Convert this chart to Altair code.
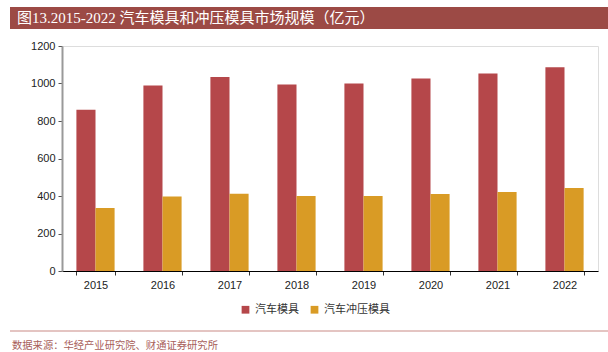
import altair as alt
import pandas as pd

years = ["2015", "2016", "2017", "2018", "2019", "2020", "2021", "2022"]
auto_mold = [860, 990, 1035, 995, 1000, 1027, 1053, 1087]
stamping_mold = [336, 398, 412, 400, 400, 411, 421, 443]
series_names = ["汽车模具", "汽车冲压模具"]
colors = ["#B5474A", "#D99B25"]

rows = []
for y, a, s in zip(years, auto_mold, stamping_mold):
    rows.append({"year": y, "series": series_names[0], "value": a})
    rows.append({"year": y, "series": series_names[1], "value": s})
df = pd.DataFrame(rows)

FONT = "Liberation Sans, Noto Sans CJK SC"
CJK = "Noto Sans CJK SC"

bars = alt.Chart(df).mark_bar(stroke=None).encode(
    x=alt.X("year:N", sort=years, title=None,
            scale=alt.Scale(paddingInner=0.43, paddingOuter=0.215),
            axis=alt.Axis(labelAngle=0, labelFont=FONT, labelFontSize=11, labelColor="#222",
                          domainColor="#000", tickColor="#333", tickBand="extent",
                          tickSize=4, labelPadding=4)),
    xOffset=alt.XOffset("series:N", sort=series_names),
    y=alt.Y("value:Q", title=None,
            scale=alt.Scale(domain=[0, 1200]),
            axis=alt.Axis(values=[0, 200, 400, 600, 800, 1000, 1200], grid=False, format="d",
                          labelFont=FONT, labelFontSize=11, labelColor="#222",
                          domainColor="#999", domainWidth=2, tickColor="#555", tickSize=4, labelPadding=3)),
    color=alt.Color("series:N", sort=series_names,
                    scale=alt.Scale(domain=series_names, range=colors),
                    legend=alt.Legend(title=None, orient="none", direction="horizontal",
                                      legendX=178, legendY=258, symbolType="square",
                                      symbolSize=60, symbolStrokeWidth=0,
                                      labelFont=CJK, labelFontSize=11, labelColor="#333",
                                      columnPadding=10)),
)

banner = alt.Chart(pd.DataFrame({"t": ["图13.2015-2022 汽车模具和冲压模具市场规模（亿元）"]})).mark_rect(
    color="#9C4A45", clip=False
).encode(x=alt.value(-52), x2=alt.value(546), y=alt.value(-39), y2=alt.value(-17))

title_text = alt.Chart(pd.DataFrame({"t": ["图13.2015-2022 汽车模具和冲压模具市场规模（亿元）"]})).mark_text(
    align="left", baseline="middle", color="white", fontSize=15,
    font="Liberation Serif, Noto Sans CJK SC", clip=False
).encode(text="t:N", x=alt.value(-45), y=alt.value(-28))

src_line = alt.Chart(pd.DataFrame({"t": ["line"]})).mark_rule(
    color="#C98A85", strokeWidth=1, clip=False
).encode(x=alt.value(-52), x2=alt.value(546), y=alt.value(285))

src_text = alt.Chart(pd.DataFrame({"t": ["数据来源：华经产业研究院、财通证券研究所"]})).mark_text(
    align="left", baseline="middle", color="#A8605A", fontSize=10.3, font=CJK, clip=False
).encode(text="t:N", x=alt.value(-50), y=alt.value(300))

chart = alt.layer(banner, title_text, bars, src_line, src_text).properties(
    width=536, height=225,
    padding={"left": 62, "top": 46, "right": 10, "bottom": 81},
    autosize=alt.AutoSizeParams(type="none"),
).configure_view(stroke=None).configure(background="white")

chart.save("out.html", embed_options={"renderer": "svg", "actions": False})
